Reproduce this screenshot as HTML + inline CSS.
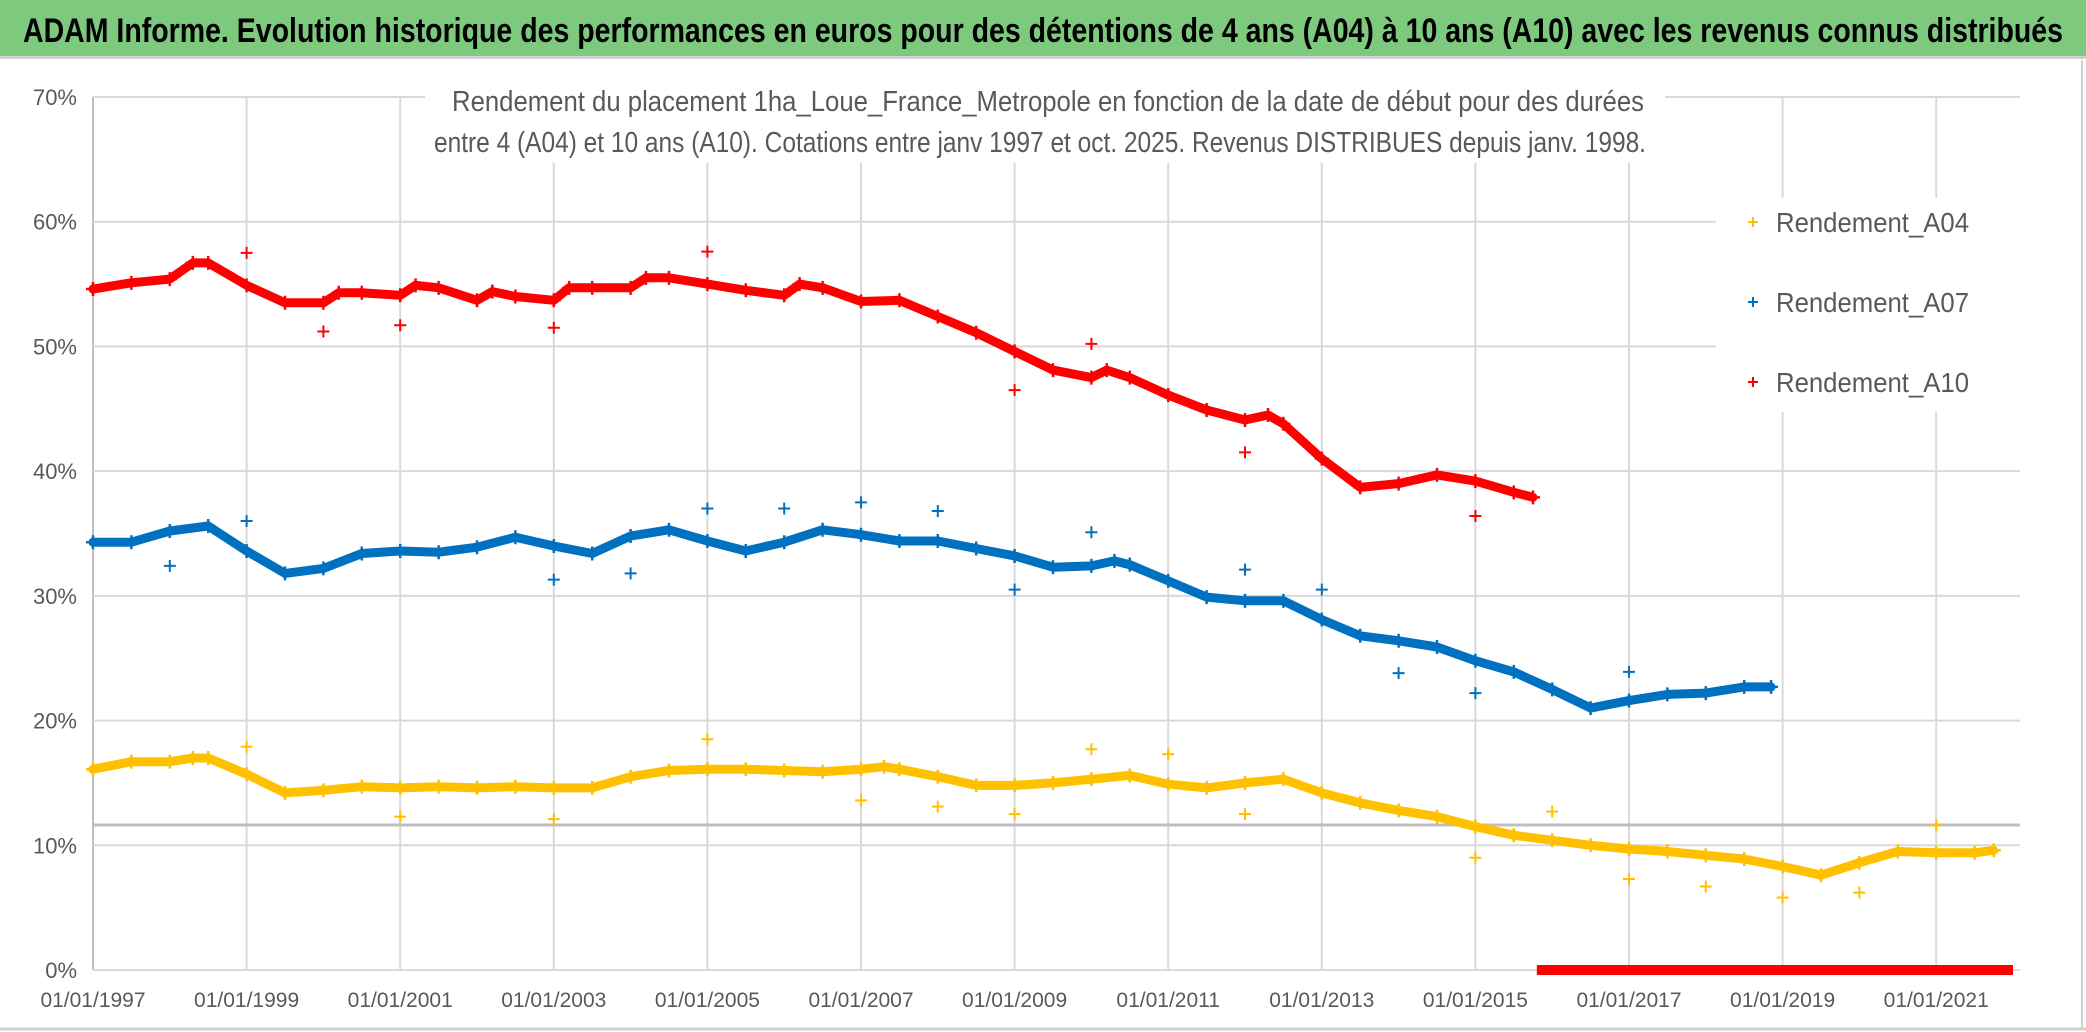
<!DOCTYPE html>
<html><head><meta charset="utf-8"><style>
html,body{margin:0;padding:0;background:#fff;width:2086px;height:1032px;overflow:hidden}
svg{display:block}
text{font-family:"Liberation Sans Narrow","Liberation Sans",sans-serif}
</style></head><body>
<svg id="chart" width="2086" height="1032" viewBox="0 0 2086 1032" xmlns="http://www.w3.org/2000/svg">
<rect x="0" y="0" width="2086" height="1032" fill="#fff"/>
<rect x="0" y="0" width="2086" height="56" fill="#7dc97e"/>
<line x1="0" y1="57.5" x2="2086" y2="57.5" stroke="#d0d0d0" stroke-width="3"/>
<text x="1043" y="42" text-anchor="middle" font-size="34" font-weight="bold" fill="#000" textLength="2040" lengthAdjust="spacingAndGlyphs">ADAM Informe. Evolution historique des performances en euros pour des détentions de 4 ans (A04) à 10 ans (A10) avec les revenus connus distribués</text>
<line x1="2082" y1="60" x2="2082" y2="1028" stroke="#d0d0d0" stroke-width="2"/>
<line x1="0" y1="1029" x2="2086" y2="1029" stroke="#d0d0d0" stroke-width="3"/>
<g id="grid"></g>
<rect x="425" y="78" width="1240" height="85" fill="#fff"/>
<text x="1048" y="111" text-anchor="middle" font-size="29" fill="#595959" textLength="1192" lengthAdjust="spacingAndGlyphs">Rendement du placement 1ha_Loue_France_Metropole en fonction de la date de début pour des durées</text>
<text x="1040" y="152" text-anchor="middle" font-size="29" fill="#595959" textLength="1212" lengthAdjust="spacingAndGlyphs">entre 4 (A04) et 10 ans (A10). Cotations entre janv 1997 et oct. 2025. Revenus DISTRIBUES depuis janv. 1998.</text>
<rect x="1716" y="198" width="306" height="214" fill="#fff"/>
<g id="series"></g>
<g id="legend"></g>
</svg>
<script>
const yTicks=[0,10,20,30,40,50,60,70];
const xTickYears=[1997,1999,2001,2003,2005,2007,2009,2011,2013,2015,2017,2019,2021];
const seriesNames=["Rendement_A04","Rendement_A07","Rendement_A10"];
const seriesColors=["#ffc000","#0070c0","#ff0000"];
const a04Years=[1997,1997.5,1998,1998.3,1998.5,1999,1999.5,2000,2000.5,2001,2001.5,2002,2002.5,2003,2003.5,2004,2004.5,2005,2005.5,2006,2006.5,2007,2007.3,2007.5,2008,2008.5,2009,2009.5,2010,2010.5,2011,2011.5,2012,2012.5,2013,2013.5,2014,2014.5,2015,2015.5,2016,2016.5,2017,2017.5,2018,2018.5,2019,2019.5,2020,2020.5,2021,2021.5,2021.75];
const a04Values=[16.1,16.7,16.7,17.0,17.0,15.7,14.2,14.4,14.7,14.6,14.7,14.6,14.7,14.6,14.6,15.5,16.0,16.1,16.1,16.0,15.9,16.1,16.3,16.1,15.5,14.8,14.8,15.0,15.3,15.6,14.9,14.6,15.0,15.3,14.2,13.4,12.8,12.3,11.5,10.8,10.4,10.0,9.7,9.5,9.2,8.9,8.3,7.6,8.6,9.5,9.4,9.4,9.6];
const a04OutYears=[1999,2001,2003,2005,2007,2008,2009,2010,2011,2012,2015,2016,2017,2018,2019,2020,2021];
const a04OutValues=[17.9,12.3,12.1,18.5,13.6,13.1,12.5,17.7,17.3,12.5,9.0,12.7,7.3,6.7,5.8,6.2,11.6];
const a07Years=[1997,1997.5,1998,1998.5,1999,1999.5,2000,2000.5,2001,2001.5,2002,2002.5,2003,2003.5,2004,2004.5,2005,2005.5,2006,2006.5,2007,2007.5,2008,2008.5,2009,2009.5,2010,2010.3,2010.5,2011,2011.5,2012,2012.5,2013,2013.5,2014,2014.5,2015,2015.5,2016,2016.5,2017,2017.5,2018,2018.5,2018.85];
const a07Values=[34.3,34.3,35.2,35.6,33.6,31.8,32.2,33.4,33.6,33.5,33.9,34.7,34.0,33.4,34.8,35.3,34.4,33.6,34.3,35.3,34.9,34.4,34.4,33.8,33.2,32.3,32.4,32.8,32.5,31.2,29.9,29.6,29.6,28.1,26.8,26.4,25.9,24.8,23.9,22.5,21.0,21.6,22.1,22.2,22.7,22.7];
const a07OutYears=[1998,1999,2003,2004,2005,2006,2007,2008,2009,2010,2012,2013,2014,2015,2017];
const a07OutValues=[32.4,36.0,31.3,31.8,37.0,37.0,37.5,36.8,30.5,35.1,32.1,30.5,23.8,22.2,23.9];
const a10Years=[1997,1997.5,1998,1998.3,1998.5,1999,1999.5,2000,2000.2,2000.5,2001,2001.2,2001.5,2002,2002.2,2002.5,2003,2003.2,2003.5,2004,2004.2,2004.5,2005,2005.5,2006,2006.2,2006.5,2007,2007.5,2008,2008.5,2009,2009.5,2010,2010.2,2010.5,2011,2011.5,2012,2012.3,2012.5,2013,2013.5,2014,2014.5,2015,2015.5,2015.75];
const a10Values=[54.6,55.1,55.4,56.7,56.7,54.9,53.5,53.5,54.3,54.3,54.1,54.9,54.7,53.7,54.4,54.0,53.7,54.7,54.7,54.7,55.5,55.5,55.0,54.5,54.1,55.0,54.7,53.6,53.7,52.4,51.1,49.6,48.1,47.5,48.1,47.5,46.1,44.9,44.1,44.5,43.8,41.0,38.7,39.0,39.7,39.2,38.3,37.9];
const a10OutYears=[1999,2000,2001,2003,2005,2009,2010,2012,2015];
const a10OutValues=[57.5,51.2,51.7,51.5,57.6,46.5,50.2,41.5,36.4];
const a10ZeroYears=[2015.8,2022.0];
const a10ZeroValues=[0,0];

const NS="http://www.w3.org/2000/svg";
const X0=93,X1=2020,Y0=970,Y70=97;
function xs(yr){return X0+(yr-1997)*76.8;}
function ys(p){return Y0-p*(Y0-Y70)/70;}
function mk(tag,attrs,parent){const e=document.createElementNS(NS,tag);for(const k in attrs)e.setAttribute(k,attrs[k]);parent.appendChild(e);return e;}
const grid=document.getElementById('grid');
xTickYears.forEach(yr=>{
  const l=mk('line',{x1:xs(yr),x2:xs(yr),y1:Y70,y2:Y0,stroke:yr===1997?'#bfbfbf':'#d9d9d9','stroke-width':2},grid);
  
  
  const t=mk('text',{x:xs(yr),y:1007,'text-anchor':'middle','font-size':21,fill:'#595959'},grid);
  t.textContent='01/01/'+yr;
  
  
});
yTicks.forEach(p=>{
  const l=mk('line',{x1:X0,x2:X1,y1:ys(p),y2:ys(p),stroke:'#d9d9d9','stroke-width':2},grid);
  
  
  const t=mk('text',{x:77,y:ys(p)+8,'text-anchor':'end','font-size':22,fill:'#595959'},grid);
  t.textContent=p+'%';
  
  
});
const ref=mk('line',{x1:X0,x2:X1,y1:825,y2:825,stroke:'#bfbfbf','stroke-width':3},grid);



const sg=document.getElementById('series');
function plus(x,y,c,s,g,w){mk('path',{d:`M${x-s} ${y}H${x+s}M${x} ${y-s}V${y+s}`,stroke:c,'stroke-width':w,fill:'none'},g);}
function drawSeries(name,years,vals,outY,outV,color){
  const g=mk('g',{},sg);
  
  
  const pts=years.map((y,i)=>xs(y).toFixed(1)+','+ys(vals[i]).toFixed(1)).join(' ');
  mk('polyline',{points:pts,fill:'none',stroke:color,'stroke-width':9,'stroke-linejoin':'round','stroke-linecap':'round'},g);
  years.forEach((y,i)=>plus(xs(y),ys(vals[i]),color,7,g,2.5));
  outY.forEach((y,i)=>plus(xs(y),ys(outV[i]),color,6,g,2));
}
drawSeries('series-a04',a04Years,a04Values,a04OutYears,a04OutValues,seriesColors[0]);
drawSeries('series-a07',a07Years,a07Values,a07OutYears,a07OutValues,seriesColors[1]);
drawSeries('series-a10',a10Years,a10Values,a10OutYears,a10OutValues,seriesColors[2]);
const zg=mk('g',{},sg);


mk('line',{x1:xs(a10ZeroYears[0]),x2:xs(a10ZeroYears[1]),y1:ys(a10ZeroValues[0]),y2:ys(a10ZeroValues[1]),stroke:'#ff0000','stroke-width':10},zg);

const lg=document.getElementById('legend');
seriesNames.forEach((n,i)=>{
  const g=mk('g',{},lg);
  
  
  const y=222+i*80;
  plus(1753,y,seriesColors[i],5,g,2);
  const t=mk('text',{x:1776,y:y+10,'font-size':28,fill:'#595959',textLength:193,lengthAdjust:'spacingAndGlyphs'},g);
  t.textContent=n;
});
</script>
</body></html>
